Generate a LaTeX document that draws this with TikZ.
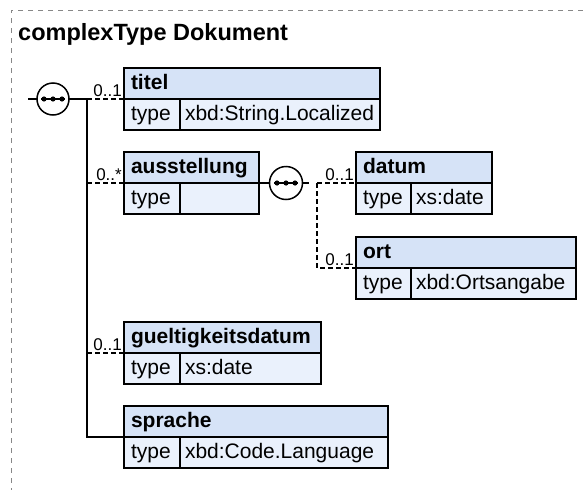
\documentclass[tikz,border=0pt]{standalone}
\usepackage{fontspec}
\setmainfont{Liberation Sans}
\definecolor{hdrfill}{RGB}{214,227,247}
\definecolor{rowfill}{RGB}{234,241,252}
\definecolor{framegray}{RGB}{135,135,135}
\tikzset{
  cell/.style={draw=black, line width=1.5pt, inner ysep=0pt, outer sep=0pt,
    minimum height=31pt, text height=15.5pt, text depth=3pt, anchor=north west,
    align=left, font=\fontsize{21}{22}\selectfont},
  hdr/.style={cell, fill=hdrfill, inner xsep=7pt, font=\bfseries\fontsize{21}{22}\selectfont},
  typecell/.style={cell, fill=rowfill, inner xsep=7pt, text width=42pt},
  valcell/.style={cell, fill=rowfill, inner xsep=5pt},
  opt/.style={line width=1.5pt, dash pattern=on 5pt off 3pt},
  req/.style={line width=1.5pt},
  card/.style={font=\fontsize{17}{17}\selectfont, anchor=base east, inner sep=0pt},
  seqc/.style={circle, draw, line width=1.5pt, fill=white, minimum size=32pt, inner sep=0pt, outer sep=0pt},
  frame/.style={draw=framegray, line width=1pt, dash pattern=on 5pt off 5pt},
}
\newcommand\seqdots[1]{%
  \draw[line width=1.5pt] ([xshift=-12pt]#1.center) -- ([xshift=12pt]#1.center);
  \fill ([xshift=-9pt]#1.center) circle (2.6pt);
  \fill (#1.center) circle (2.6pt);
  \fill ([xshift=9pt]#1.center) circle (2.6pt);
}
\begin{document}
\begin{tikzpicture}[x=1pt, y=-1pt]
\useasboundingbox (0,0) rectangle (583,490);
\draw[frame] (583,10) -- (11,10) -- (11,490);
\node[anchor=base west, inner sep=0pt, font=\bfseries\fontsize{23.5}{25}\selectfont] (title) at (18,40) {complexType Dokument};

% titel
\node[hdr, text width=242pt] (titel) at (124,68) {titel};
\node[typecell] (titelT) at (124,99) {type};
\node[valcell, text width=190pt] (titelV) at (180,99) {xbd:String.Localized};
% ausstellung
\node[hdr, text width=121pt] (aus) at (124,152) {ausstellung};
\node[typecell] (ausT) at (124,183) {type};
\node[valcell, text width=69pt] (ausV) at (180,183) {};
% datum
\node[hdr, text width=122pt] (datum) at (356,152) {datum};
\node[typecell, text width=41pt] (datumT) at (356,183) {type};
\node[valcell, text width=71pt] (datumV) at (411,183) {xs:date};
% ort
\node[hdr, text width=206pt] (ort) at (356,237) {ort};
\node[typecell, text width=41pt] (ortT) at (356,268) {type};
\node[valcell, text width=155pt] (ortV) at (411,268) {xbd:Ortsangabe};
% gueltigkeitsdatum
\node[hdr, text width=183pt] (gue) at (124,322) {gueltigkeitsdatum};
\node[typecell] (gueT) at (124,353) {type};
\node[valcell, text width=131pt] (gueV) at (180,353) {xs:date};
% sprache
\node[hdr, text width=250pt] (spr) at (124,406) {sprache};
\node[typecell] (sprT) at (124,437) {type};
\node[valcell, text width=198pt] (sprV) at (180,437) {xbd:Code.Language};

% main sequence
\node[seqc] (seq1) at (53,99) {};
\seqdots{seq1}
\coordinate (start) at (28,99);
\coordinate (bus1) at (87,99);
\coordinate (bus2) at (87,183);
\coordinate (bus3) at (87,353);
\coordinate (bus4) at (87,437);
\draw[req] (start) -- (seq1.west);
\draw[req] (seq1.east) -- (bus1);
\draw[req] (bus1) -- (bus4) -- (spr.south west);
\draw[opt] (bus1) -- (titel.south west);
\draw[opt] (bus2) -- (aus.south west);
\draw[opt] (bus3) -- (gue.south west);
\node[card] (c1) at ([xshift=-2pt,yshift=2.5pt]titel.south west) {0..1};
\node[card] (c2) at ([xshift=-2pt,yshift=2.5pt]aus.south west) {0..*};
\node[card] (c3) at ([xshift=-2pt,yshift=2.5pt]gue.south west) {0..1};

% nested sequence
\node[seqc, minimum size=33pt] (seq2) at (286,183) {};
\seqdots{seq2}
\coordinate (stub2) at (309,183);
\coordinate (br1) at (317,183);
\coordinate (br2) at (317,268);
\draw[req] (aus.south east) -- (seq2.west);
\draw[req] (seq2.east) -- (stub2);
\draw[opt] (br1) -- (datum.south west);
\draw[opt] (br1) -- (br2) -- (ort.south west);
\node[card] (c4) at ([xshift=-2pt,yshift=2.5pt]datum.south west) {0..1};
\node[card] (c5) at ([xshift=-2pt,yshift=2.5pt]ort.south west) {0..1};
\end{tikzpicture}
\end{document}
